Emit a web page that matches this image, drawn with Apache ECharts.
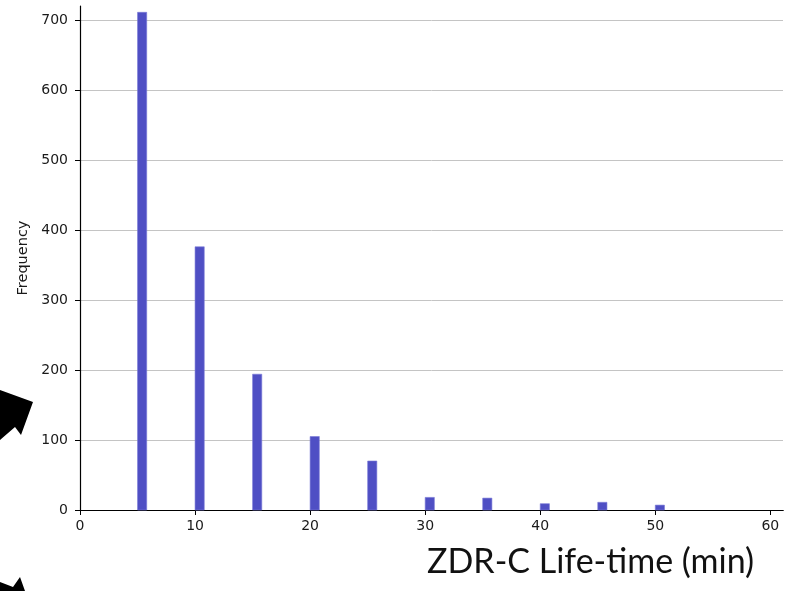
<!DOCTYPE html>
<html>
<head>
<meta charset="utf-8">
<script src="https://cdn.jsdelivr.net/npm/echarts@6/dist/echarts.min.js"></script>
<style>
  html, body { margin: 0; padding: 0; background: #fff; }
  #chart { width: 795px; height: 591px; }
</style>
</head>
<body>
<div id="chart"></div>
<script>
// Lifetime bins (minutes, left edge of each bar) and their counts
const lifetimes = [5, 10, 15, 20, 25, 30, 35, 40, 45, 50];
const counts = [711, 376, 194, 105, 70, 18, 17, 9, 11, 7];
const binWidth = 0.8;
const xTicks = [0, 10, 20, 30, 40, 50, 60];
const yTicks = [0, 100, 200, 300, 400, 500, 600, 700];

const chart = echarts.init(document.getElementById('chart'), null, { renderer: 'canvas' });

const tickFont = { fontFamily: 'DejaVu Sans', fontSize: 14, color: '#1a1a1a' };

chart.setOption({
  animation: false,
  backgroundColor: '#ffffff',
  title: {
    text: 'ZDR-C Life-time (min)',
    left: 427,
    top: 545,
    padding: 0,
    textStyle: { fontFamily: 'Lato', fontSize: 34, fontWeight: 'normal', color: '#111' }
  },
  grid: { left: 80, right: 12, top: 6, bottom: 81, containLabel: false },
  xAxis: [
    {
      type: 'value', min: 0, max: 61.1, position: 'bottom',
      axisLine: { show: true, onZero: false, lineStyle: { color: '#000', width: 1.2 } },
      axisTick: { show: true, length: 5, customValues: xTicks, lineStyle: { color: '#000' } },
      axisLabel: { customValues: xTicks, margin: 9, ...tickFont },
      splitLine: { show: false }
    },
    {
      type: 'value', min: 0, max: 61.1, position: 'top',
      axisLine: { show: true, lineStyle: { color: '#000', width: 1.2 } },
      axisTick: { show: false }, axisLabel: { show: false }, splitLine: { show: false }
    }
  ],
  yAxis: {
    type: 'value', min: 0, max: 720,
    name: 'Frequency', nameLocation: 'middle', nameGap: 43,
    nameTextStyle: { fontFamily: 'DejaVu Sans', fontSize: 14.5, color: '#1a1a1a' },
    axisLine: { show: true, lineStyle: { color: '#000', width: 1.2 } },
    axisTick: { show: true, length: 5, customValues: yTicks, lineStyle: { color: '#000' } },
    axisLabel: { customValues: yTicks, margin: 12, ...tickFont },
    splitLine: { show: true, lineStyle: { color: '#c4c4c4', width: 1 } }
  },
  series: [{
    type: 'custom',
    data: lifetimes.map((x, i) => [x, counts[i]]),
    renderItem: function (params, api) {
      const x0 = api.value(0);
      const p0 = api.coord([x0, 0]);
      const p1 = api.coord([x0 + binWidth, api.value(1)]);
      return {
        type: 'rect',
        shape: { x: p0[0], y: p1[1], width: p1[0] - p0[0], height: p0[1] - p1[1] },
        style: { fill: '#4f4fc4', stroke: '#7b7bd6', lineWidth: 0.6 }
      };
    }
  }],
  graphic: [
    {
      type: 'polygon',
      shape: { points: [[0, 390], [33, 402], [21, 435], [15, 427], [0, 440]] },
      style: { fill: '#000' }
    },
    {
      type: 'polygon',
      shape: { points: [[0, 582], [13, 587], [20, 577], [25, 591], [0, 591]] },
      style: { fill: '#000' }
    }
  ]
});
</script>
</body>
</html>
